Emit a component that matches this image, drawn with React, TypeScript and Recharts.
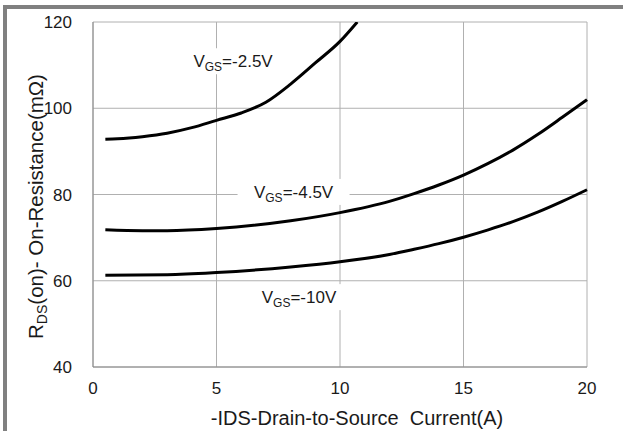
import { LineChart, Line, XAxis, YAxis, CartesianGrid, ReferenceDot } from "recharts";

// -IDS (A) vs RDS(on) (mΩ)
const vgs25X = [0.5, 1, 2, 3, 4, 5, 6, 7, 8, 9, 10, 10.7];
const vgs25Y = [92.8, 92.9, 93.4, 94.2, 95.5, 97.2, 98.9, 101.4, 105.6, 110.5, 115.5, 120];

const vgs45X = [0.5, 2, 3, 5, 8, 10, 12, 13, 14, 15, 16, 17, 18, 19, 20];
const vgs45Y = [71.8, 71.6, 71.6, 72.1, 73.9, 75.8, 78.4, 80.2, 82.2, 84.5, 87.2, 90.3, 93.9, 97.9, 102];

const vgs10X = [0.5, 3, 5, 8, 10, 12, 13, 14, 15, 16, 17, 18, 19, 20];
const vgs10Y = [61.3, 61.4, 61.9, 63.2, 64.4, 66.1, 67.3, 68.6, 70.1, 71.8, 73.7, 75.9, 78.4, 81.1];

const xTicks = [0, 5, 10, 15, 20];
const yTicks = [40, 60, 80, 100, 120];

// curve labels: value after "V" + subscript "GS", position in data units
const curveLabels = [
  { text: "=-2.5V", x: 5.67, y: 110.9, boxW: 92 },
  { text: "=-4.5V", x: 8.12, y: 80.6, boxW: 112 },
  { text: "=-10V", x: 8.34, y: 56.2, boxW: 92 },
];

const zip = (xs: number[], ys: number[]) => xs.map((x, i) => ({ x, r: ys[i] }));

const FONT = "'Liberation Sans', Arial, sans-serif";
const INK = "#1a1a1a";

function VgsLabel(props: any) {
  const { cx, cy, text, boxW } = props;
  if (cx == null || cy == null) return null;
  return (
    <g>
      <rect x={cx - boxW / 2} y={cy - 13} width={boxW} height={26} fill="#fff" />
      <text x={cx} y={cy} dy="0.36em" textAnchor="middle" fontFamily={FONT} fontSize={17} fill={INK}>
        V
        <tspan fontSize={12} dy="4">GS</tspan>
        <tspan dy="-4">{text}</tspan>
      </text>
    </g>
  );
}

function YLabel(props: any) {
  const { viewBox } = props;
  const cx = 36;
  const cy = viewBox.y + viewBox.height / 2 + 12;
  return (
    <text
      x={cx}
      y={cy}
      transform={`rotate(-90 ${cx} ${cy})`}
      textAnchor="middle"
      dy="0.36em"
      fontFamily={FONT}
      fontSize={20.5}
      fill={INK}
    >
      R<tspan fontSize={14} dy="4">DS</tspan>
      <tspan dy="-4">(on)- On-Resistance(mΩ)</tspan>
    </text>
  );
}

function XLabel(props: any) {
  const { viewBox } = props;
  return (
    <text
      x={viewBox.x + viewBox.width / 2 + 17}
      y={viewBox.y + viewBox.height - 6}
      textAnchor="middle"
      fontFamily={FONT}
      fontSize={20}
      fill={INK}
      style={{ whiteSpace: "pre" }}
    >
      -IDS-Drain-to-Source  Current(A)
    </text>
  );
}

export default function App() {
  return (
    <div style={{ position: "absolute", left: 0, top: 0, width: 623, height: 431, background: "#fff" }}>
      <div
        style={{
          position: "absolute",
          left: 3,
          top: 5,
          right: 0,
          bottom: 0,
          borderTop: "4px solid #808080",
          borderLeft: "4px solid #808080",
        }}
      />
      <div style={{ position: "absolute", left: 0, top: 0 }}>
        <LineChart width={623} height={431} margin={{ top: 22, right: 36, bottom: 0, left: 13 }}>
          <CartesianGrid stroke="#b0b0b0" strokeWidth={1} />
          <XAxis
            type="number"
            dataKey="x"
            domain={[0, 20]}
            ticks={xTicks}
            tickLine={false}
            tickSize={0}
            tickMargin={15}
            stroke="#8a8a8a"
            tick={{ fill: INK, fontSize: 17, fontFamily: FONT }}
            height={64}
            label={<XLabel />}
          />
          <YAxis
            type="number"
            domain={[40, 120]}
            ticks={yTicks}
            allowDataOverflow
            tickLine={false}
            tickSize={0}
            tickMargin={21}
            width={80}
            stroke="#8a8a8a"
            tick={{ fill: INK, fontSize: 17, fontFamily: FONT }}
            label={<YLabel />}
          />
          <Line data={zip(vgs25X, vgs25Y)} dataKey="r" type="monotone" stroke="#000" strokeWidth={3} dot={false} isAnimationActive={false} />
          <Line data={zip(vgs45X, vgs45Y)} dataKey="r" type="monotone" stroke="#000" strokeWidth={3} dot={false} isAnimationActive={false} />
          <Line data={zip(vgs10X, vgs10Y)} dataKey="r" type="monotone" stroke="#000" strokeWidth={3} dot={false} isAnimationActive={false} />
          {curveLabels.map((l) => (
            <ReferenceDot
              key={l.text}
              x={l.x}
              y={l.y}
              r={0}
              shape={(p: any) => <VgsLabel {...p} text={l.text} boxW={l.boxW} />}
            />
          ))}
        </LineChart>
      </div>
    </div>
  );
}
